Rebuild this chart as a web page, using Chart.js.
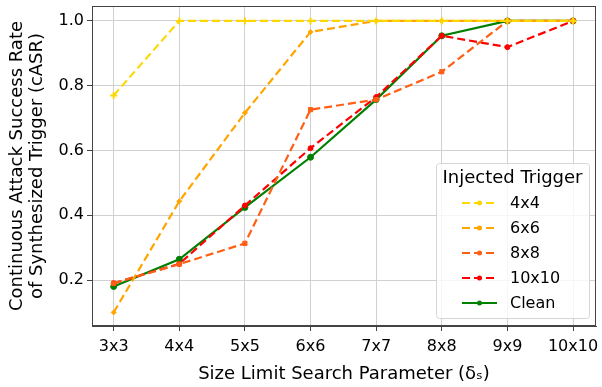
<!DOCTYPE html>
<html>
<head>
<meta charset="utf-8">
<script src="https://cdn.jsdelivr.net/npm/chart.js@4"></script>
<style>
  html, body { margin: 0; padding: 0; background: #fff; }
  #wrap { width: 602px; height: 387px; }
</style>
</head>
<body>
<div id="wrap"><canvas id="asr-chart" width="602" height="387"></canvas></div>
<script>
// size limit search parameter
const sizes = ['3x3', '4x4', '5x5', '6x6', '7x7', '8x8', '9x9', '10x10'];
const yTicks = [0.2, 0.4, 0.6, 0.8, 1.0];

// cASR per injected trigger
const trig4 = [0.77, 1.0, 1.0, 1.0, 1.0, 1.0, 1.0, 1.0];
const trig6 = [0.10, 0.443, 0.716, 0.966, 1.0, 1.0, 1.0, 1.0];
const trig8 = [0.19, 0.249, 0.313, 0.726, 0.757, 0.843, 1.0, 1.0];
const trig10 = [0.19, 0.25, 0.43, 0.607, 0.765, 0.954, 0.919, 1.0];
const clean = [0.18, 0.264, 0.424, 0.579, 0.757, 0.954, 1.0, 1.0];

const FONT = '"DejaVu Sans", sans-serif';

function pts(arr) {
  return arr.map((v, i) => ({ x: i, y: v }));
}

function series(label, arr, color, dashed, marker, radius) {
  return {
    label: label,
    data: pts(arr),
    borderColor: color,
    backgroundColor: color,
    borderWidth: 2.2,
    borderDash: dashed ? [8, 4] : [],
    pointStyle: marker,
    pointRadius: radius,
    pointBorderWidth: marker === 'cross' ? 2 : 1,
    tension: 0
  };
}

// frame around the plot area
const frame = {
  id: 'frame',
  afterDraw(chart) {
    const a = chart.chartArea, ctx = chart.ctx;
    ctx.save();
    ctx.strokeStyle = '#444';
    ctx.lineWidth = 1;
    ctx.strokeRect(a.left + 0.5, a.top + 0.5, a.right - a.left - 1, a.bottom - a.top - 1);
    ctx.restore();
  }
};

// legend drawn inside the plot, lower right
const innerLegend = {
  id: 'innerLegend',
  afterDraw(chart) {
    const ctx = chart.ctx;
    const x0 = 436, y0 = 163, w = 153, h = 155;
    ctx.save();
    ctx.fillStyle = 'rgba(255,255,255,0.8)';
    ctx.strokeStyle = '#d6d6d6';
    ctx.lineWidth = 1;
    ctx.beginPath();
    ctx.roundRect(x0 + 0.5, y0 + 0.5, w, h, 3);
    ctx.fill();
    ctx.stroke();

    ctx.fillStyle = '#000';
    ctx.textBaseline = 'middle';
    ctx.textAlign = 'center';
    ctx.font = '18px ' + FONT;
    ctx.fillText('Injected Trigger', x0 + w / 2, 178);

    ctx.textAlign = 'left';
    ctx.font = '16px ' + FONT;
    chart.data.datasets.forEach((ds, i) => {
      const y = 203 + i * 25;
      ctx.strokeStyle = ds.borderColor;
      ctx.lineWidth = 2.2;
      ctx.setLineDash(ds.borderDash);
      ctx.beginPath();
      ctx.moveTo(462, y);
      ctx.lineTo(497, y);
      ctx.stroke();
      ctx.setLineDash([]);
      ctx.fillStyle = ds.borderColor;
      ctx.beginPath();
      ctx.arc(479.5, y, 2.5, 0, Math.PI * 2);
      ctx.fill();
      ctx.fillStyle = '#000';
      ctx.fillText(ds.label, 510, y + 1);
    });
    ctx.restore();
  }
};

const chartConfig = {
  type: 'line',
  data: {
    datasets: [
      series('4x4', trig4, '#FFD700', true, 'cross', 3.5),
      series('6x6', trig6, '#FFA500', true, 'rectRot', 2.5),
      series('8x8', trig8, '#FF5F15', true, 'rect', 3),
      series('10x10', trig10, '#FF0000', true, 'circle', 2.5),
      series('Clean', clean, '#008000', false, 'circle', 3)
    ]
  },
  options: {
    responsive: false,
    animation: false,
    layout: { padding: { top: 5, right: 4, left: 0, bottom: 0 } },
    plugins: {
      legend: { display: false },
      tooltip: { enabled: false }
    },
    scales: {
      x: {
        type: 'linear',
        min: -0.33,
        max: 7.35,
        afterBuildTicks: axis => { axis.ticks = sizes.map((s, i) => ({ value: i })); },
        afterFit: axis => { axis.height = 61; axis.paddingRight = 0; axis.paddingLeft = 0; },
        ticks: {
          callback: v => sizes[v],
          color: '#000',
          font: { family: FONT, size: 16 },
          padding: 6,
          maxRotation: 0,
          autoSkip: false
        },
        grid: { color: '#d0d0d0', tickColor: '#444', tickLength: 5 },
        border: { color: '#444' },
        title: {
          display: true,
          text: 'Size Limit Search Parameter (δₛ)',
          color: '#000',
          font: { family: FONT, size: 18 },
          padding: { top: 0, bottom: 2 }
        }
      },
      y: {
        min: 0.058,
        max: 1.046,
        afterBuildTicks: axis => { axis.ticks = yTicks.map(v => ({ value: v })); },
        afterFit: axis => { axis.width = 92; axis.paddingTop = 0; axis.paddingBottom = 0; },
        ticks: {
          callback: v => v.toFixed(1),
          color: '#000',
          font: { family: FONT, size: 16 },
          padding: 3
        },
        grid: { color: '#d0d0d0', tickColor: '#444', tickLength: 5 },
        border: { color: '#444' },
        title: {
          display: true,
          text: ['Continuous Attack Success Rate', 'of Synthesized Trigger (cASR)'],
          color: '#000',
          font: { family: FONT, size: 18, lineHeight: 1.12 },
          padding: { top: 7, bottom: 0 }
        }
      }
    }
  },
  plugins: [frame, innerLegend]
};

var asrChart = new Chart(document.getElementById('asr-chart'), chartConfig);
</script>
</body>
</html>
